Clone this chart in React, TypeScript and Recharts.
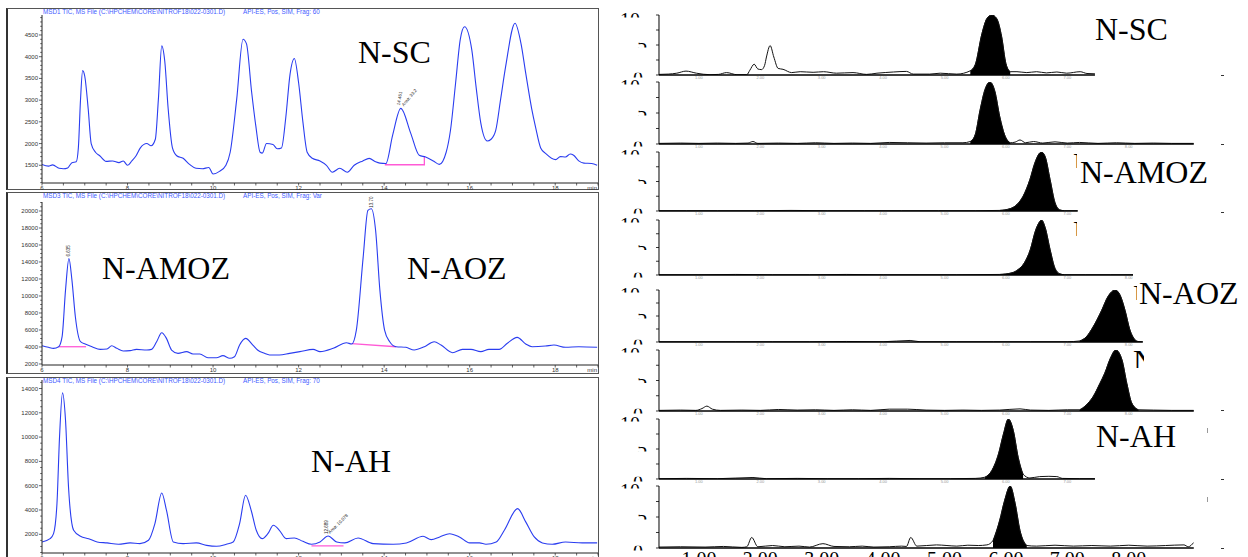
import React from "react";
import { ComposedChart, Line, Area, XAxis, YAxis, ReferenceDot } from "recharts";

type Pt = [number, number];

// ---------- left: TIC traces, [time (min), abundance] ----------
const tic1: Pt[] = [
  [6.0, 1520], [6.15, 1480], [6.25, 1510], [6.4, 1430], [6.5, 1420], [6.6, 1440], [6.7, 1560], [6.8, 1580],
  [6.85, 1900], [6.9, 3000], [6.95, 3680], [7.0, 3550], [7.08, 2800], [7.15, 2000], [7.25, 1800], [7.35, 1720],
  [7.5, 1590], [7.65, 1600], [7.8, 1560], [7.9, 1600], [8.0, 1500], [8.1, 1600], [8.2, 1720], [8.3, 1900],
  [8.45, 2000], [8.55, 1950], [8.65, 2100], [8.72, 3000], [8.8, 4250], [8.87, 3900], [8.95, 2800], [9.05, 1900],
  [9.15, 1720], [9.3, 1660], [9.45, 1520], [9.6, 1430], [9.75, 1420], [9.9, 1450], [10.0, 1300], [10.15, 1360],
  [10.3, 1500], [10.4, 1800], [10.55, 3000], [10.7, 4400], [10.78, 4300], [10.9, 3200], [11.0, 2400], [11.1, 1800],
  [11.15, 1780], [11.25, 2000], [11.4, 1980], [11.5, 1880], [11.6, 1900], [11.7, 2600], [11.8, 3600], [11.9, 3960],
  [12.0, 3400], [12.1, 2500], [12.2, 1800], [12.32, 1660], [12.5, 1600], [12.65, 1500], [12.79, 1340], [12.96, 1430],
  [13.14, 1340], [13.3, 1500], [13.5, 1600], [13.65, 1660], [13.8, 1580], [13.9, 1550], [14.04, 1540], [14.2, 2200],
  [14.39, 2810], [14.62, 2240], [14.82, 1730], [14.97, 1690], [15.15, 1600], [15.29, 1520], [15.45, 1800], [15.55, 2300],
  [15.67, 3390], [15.78, 4400], [15.88, 4690], [16.05, 4150], [16.15, 3300], [16.26, 2470], [16.41, 2060], [16.5, 2100],
  [16.61, 2310], [16.72, 3000], [16.84, 3770], [17.06, 4770], [17.2, 4300], [17.31, 3620], [17.45, 2800], [17.54, 2380],
  [17.66, 1900], [17.78, 1770], [18.01, 1630], [18.12, 1700], [18.24, 1690], [18.35, 1760], [18.43, 1730], [18.55, 1600],
  [18.67, 1550], [18.85, 1540], [18.98, 1500],
];
const tic1Base: Pt[] = [[14.03, 1545], [14.03, 1512], [14.94, 1512], [14.94, 1690]];

const tic2: Pt[] = [
  [6.0, 4150], [6.15, 3960], [6.27, 3840], [6.39, 4030], [6.47, 5210], [6.55, 10690], [6.63, 14400], [6.7, 11860],
  [6.78, 7560], [6.9, 4620], [7.01, 4350], [7.17, 4030], [7.36, 3720], [7.52, 3760], [7.63, 4150], [7.75, 3840],
  [7.9, 3530], [8.06, 3570], [8.21, 3720], [8.45, 3640], [8.56, 3720], [8.68, 4620], [8.8, 5680], [8.91, 5010],
  [9.03, 3640], [9.18, 3250], [9.38, 3450], [9.53, 3170], [9.69, 3170], [9.88, 2740], [10.08, 2740], [10.23, 2980],
  [10.39, 2670], [10.5, 2860], [10.62, 4230], [10.76, 5010], [10.93, 4230], [11.04, 3640], [11.2, 3250], [11.32, 3060],
  [11.55, 3060], [11.79, 3250], [12.03, 3450], [12.34, 3720], [12.5, 3450], [12.81, 3840], [13.12, 4500], [13.24, 4350],
  [13.35, 5990], [13.51, 14600], [13.62, 20080], [13.7, 20270], [13.8, 17730], [13.9, 10690], [14.01, 5990], [14.13, 4620],
  [14.28, 4030], [14.51, 3960], [14.7, 3640], [14.94, 4030], [15.17, 4620], [15.33, 4230], [15.6, 3330], [15.83, 3720],
  [16.03, 3720], [16.26, 3450], [16.45, 3720], [16.69, 3720], [16.88, 4430], [17.11, 5130], [17.31, 4350], [17.46, 4030],
  [17.77, 4110], [17.97, 4230], [18.24, 3960], [18.55, 4030], [18.98, 3960],
];
const tic2BaseA: Pt[] = [[6.39, 4030], [7.03, 4030]];
const tic2BaseB: Pt[] = [[13.24, 4400], [14.28, 4030]];

const tic3: Pt[] = [
  [6.0, 1370], [6.19, 1640], [6.27, 2050], [6.35, 4530], [6.41, 10020], [6.48, 13640], [6.55, 11390], [6.62, 5900],
  [6.74, 2330], [6.9, 1840], [7.09, 1640], [7.29, 1370], [7.52, 1290], [7.79, 1180], [8.06, 1290], [8.29, 1230],
  [8.49, 1510], [8.64, 2880], [8.8, 5400], [8.91, 3980], [9.07, 1370], [9.3, 1230], [9.61, 1290], [9.85, 1090],
  [10.08, 1010], [10.31, 1180], [10.47, 1370], [10.62, 2880], [10.76, 5210], [10.89, 3980], [11.01, 2330], [11.15, 1640],
  [11.28, 2050], [11.41, 2740], [11.55, 2330], [11.71, 1640], [11.9, 1700], [12.1, 1420], [12.3, 1180], [12.5, 1370],
  [12.69, 1860], [12.89, 1370], [13.08, 1290], [13.39, 1700], [13.74, 1230], [14.21, 1180], [14.52, 1290], [14.91, 1840],
  [15.1, 1560], [15.3, 1780], [15.53, 2050], [15.76, 1780], [16.0, 1290], [16.23, 1290], [16.38, 1180], [16.62, 1370],
  [16.81, 2330], [17.12, 4110], [17.31, 3020], [17.51, 1780], [17.7, 1290], [17.93, 1180], [18.24, 1370], [18.63, 1290],
  [18.98, 1290],
];
const tic3Base: Pt[] = [[12.3, 1040], [13.05, 1040]];

// ---------- right: SIM traces, [time (min), response] ----------
const sim1: Pt[] = [
  [0.35, 0.1], [0.5, 0.15], [0.64, 0.3], [0.79, 0.65], [0.96, 0.3], [1.18, 0.05], [1.32, 0.1], [1.45, 0.4], [1.62, 0.05],
  [1.78, 0.05], [1.83, 0.8], [1.9, 1.8], [1.96, 1.0], [2.02, 0.9], [2.07, 1.6], [2.1, 3.0], [2.16, 4.9], [2.22, 3.0],
  [2.29, 1.1], [2.37, 0.95], [2.51, 0.4], [2.65, 0.55], [2.86, 0.45], [3.03, 0.55], [3.24, 0.3], [3.51, 0.4], [3.73, 0.1],
  [3.9, 0.3], [4.17, 0.5], [4.38, 0.6], [4.49, 0.15], [4.76, 0.15], [4.93, 0.3], [5.2, 0.15], [5.42, 0.7], [5.5, 1.7],
  [5.61, 6.9], [5.69, 9.4], [5.77, 10], [5.85, 9.4], [5.93, 6.4], [6.0, 1.9], [6.07, 0.55], [6.18, 0.55], [6.34, 0.4],
  [6.5, 0.55], [6.66, 0.35], [6.83, 0.5], [6.99, 0.3], [7.21, 0.55], [7.32, 0.25], [7.45, 0.2],
];
const sim2: Pt[] = [
  [0.35, 0.1], [0.7, 0.15], [1.0, 0.1], [1.3, 0.15], [1.6, 0.1], [1.8, 0.15], [1.88, 0.4], [1.96, 0.1], [2.3, 0.15],
  [2.6, 0.1], [2.9, 0.2], [3.2, 0.1], [3.5, 0.15], [3.8, 0.1], [4.1, 0.25], [4.4, 0.2], [4.7, 0.15], [5.0, 0.2],
  [5.3, 0.2], [5.42, 0.4], [5.5, 1.5], [5.58, 5.5], [5.66, 8.8], [5.74, 10], [5.82, 8.5], [5.9, 4.4], [5.99, 1.2],
  [6.07, 0.2], [6.15, 0.3], [6.23, 0.65], [6.32, 0.2], [6.45, 0.4], [6.6, 0.15], [6.8, 0.35], [7.0, 0.15], [7.2, 0.25],
  [7.5, 0.1], [7.8, 0.2], [8.1, 0.1], [8.4, 0.15], [8.7, 0.1], [9.06, 0.1],
];
const sim3: Pt[] = [
  [0.35, 0.05], [0.8, 0.05], [1.3, 0.05], [1.9, 0.05], [2.5, 0.1], [3.1, 0.05], [3.7, 0.05], [4.3, 0.05], [4.9, 0.05],
  [5.5, 0.05], [5.9, 0.1], [6.07, 0.4], [6.18, 1.1], [6.28, 2.5], [6.39, 5.3], [6.47, 8.1], [6.54, 9.7], [6.58, 10],
  [6.64, 9.2], [6.72, 5.3], [6.8, 1.4], [6.88, 0.17], [6.95, 0.05], [7.17, 0.05],
];
const sim4: Pt[] = [
  [0.35, 0.05], [1.0, 0.05], [1.6, 0.1], [2.2, 0.05], [2.8, 0.05], [3.4, 0.1], [4.0, 0.05], [4.6, 0.05], [5.2, 0.05],
  [5.9, 0.1], [6.1, 0.4], [6.2, 1.0], [6.3, 2.2], [6.4, 4.7], [6.48, 8.0], [6.55, 9.7], [6.58, 10], [6.64, 8.6],
  [6.72, 4.6], [6.8, 1.2], [6.88, 0.2], [6.95, 0.05], [7.3, 0.05], [7.7, 0.05], [8.07, 0.05],
];
const sim5: Pt[] = [
  [0.35, 0.05], [1.0, 0.05], [1.6, 0.05], [2.2, 0.05], [2.8, 0.05], [3.4, 0.1], [4.0, 0.05], [4.44, 0.3], [4.6, 0.05],
  [5.2, 0.05], [5.8, 0.05], [6.4, 0.05], [7.0, 0.05], [7.2, 0.2], [7.31, 1.0], [7.42, 2.9], [7.56, 6.1], [7.66, 8.7],
  [7.78, 10], [7.86, 9.0], [7.94, 6.1], [8.02, 2.3], [8.1, 0.45], [8.15, 0.1], [8.23, 0.05],
];
const sim6: Pt[] = [
  [0.35, 0.1], [0.7, 0.15], [0.95, 0.1], [1.05, 0.4], [1.13, 0.8], [1.22, 0.3], [1.35, 0.1], [1.7, 0.15], [2.0, 0.1],
  [2.3, 0.25], [2.6, 0.15], [2.9, 0.2], [3.2, 0.1], [3.5, 0.2], [3.8, 0.1], [4.1, 0.3], [4.4, 0.3], [4.7, 0.15],
  [5.0, 0.1], [5.3, 0.15], [5.6, 0.1], [5.9, 0.15], [6.23, 0.35], [6.4, 0.15], [6.7, 0.1], [7.0, 0.2], [7.2, 0.2],
  [7.31, 1.0], [7.42, 2.35], [7.53, 4.5], [7.61, 6.2], [7.7, 8.6], [7.79, 10], [7.89, 8.4], [7.97, 4.5], [8.05, 1.3],
  [8.16, 0.2], [8.4, 0.15], [8.7, 0.1], [9.06, 0.1],
];
const sim7: Pt[] = [
  [0.35, 0.05], [0.8, 0.1], [1.3, 0.05], [1.88, 0.25], [2.1, 0.05], [2.6, 0.1], [3.1, 0.05], [3.6, 0.05], [4.1, 0.1],
  [4.6, 0.05], [5.1, 0.05], [5.5, 0.1], [5.66, 0.3], [5.77, 1.4], [5.88, 4.2], [5.96, 7.5], [6.04, 10], [6.12, 8.1],
  [6.2, 3.6], [6.28, 0.8], [6.39, 0.17], [6.55, 0.4], [6.7, 0.45], [6.83, 0.4], [6.92, 0.1], [7.2, 0.05], [7.45, 0.05],
];
const sim8: Pt[] = [
  [0.35, 0.15], [0.7, 0.2], [1.1, 0.15], [1.4, 0.25], [1.7, 0.1], [1.78, 0.2], [1.86, 1.7], [1.96, 0.2], [2.2, 0.4],
  [2.4, 0.2], [2.63, 0.3], [2.8, 0.15], [3.02, 0.7], [3.2, 0.25], [3.45, 0.2], [3.66, 0.3], [3.85, 0.15], [4.1, 0.2],
  [4.3, 0.3], [4.38, 0.25], [4.45, 1.7], [4.55, 0.3], [4.87, 0.5], [5.04, 0.4], [5.2, 0.3], [5.38, 0.45], [5.55, 0.4],
  [5.69, 0.5], [5.79, 1.2], [5.9, 4.5], [5.98, 7.7], [6.07, 10], [6.15, 7.2], [6.23, 2.8], [6.34, 0.4], [6.5, 0.3],
  [6.8, 0.45], [7.1, 0.3], [7.4, 0.4], [7.7, 0.3], [8.0, 0.45], [8.3, 0.3], [8.6, 0.4], [8.9, 0.5], [8.97, 0.2], [9.06, 0.9],
];

// integrated (filled) window of each SIM trace and where each trace's axis ends
const simPeaks: Pt[] = [[5.42, 6.07], [5.42, 6.07], [5.9, 6.95], [5.9, 6.95], [7.1, 8.15], [7.1, 8.2], [5.6, 6.36], [5.7, 6.36]];
const simEnds = [7.45, 9.06, 7.17, 8.07, 8.23, 9.06, 7.45, 9.06];

const LX_TICKS = [6, 6.5, 7, 7.5, 8, 8.5, 9, 9.5, 10, 10.5, 11, 11.5, 12, 12.5, 13, 13.5, 14, 14.5, 15, 15.5, 16, 16.5, 17, 17.5, 18, 18.5, 19];
const RX_TICKS = [1, 2, 3, 4, 5, 6, 7, 8];
const RY_TICKS = [0, 2.5, 5, 7.5, 10];

const BLUE = "#2a3df0";
const PINK = "#ff5ad6";
const R_T0 = 0.35;
const R_PX = 61.4;

const range = (a: number, b: number, s: number) => {
  const out: number[] = [];
  for (let v = a; v <= b + 1e-9; v += s) out.push(Math.round(v * 100) / 100);
  return out;
};
const toObj = (pts: Pt[]) => pts.map(([t, v]) => ({ t, v }));

const LeftXTick = (p: any) => {
  const { x, y, payload } = p;
  const v = payload.value;
  const lbl = v === 19 ? "min" : Number.isInteger(v) && v % 2 === 0 ? String(v) : null;
  return (
    <g>
      <line x1={x} x2={x} y1={y} y2={y + 2.5} stroke="#222" strokeWidth={0.7} />
      {lbl && (
        <text x={v === 19 ? x - 1 : x} y={y + 6.5} textAnchor={v === 19 ? "end" : "middle"} fontSize={6} fontFamily="Liberation Sans" fill="#333">
          {lbl}
        </text>
      )}
    </g>
  );
};

const leftYTick = (step: number) => (p: any) => {
  const { x, y, payload } = p;
  const v = payload.value;
  const major = v % step === 0;
  return (
    <g>
      <line x1={x} x2={x - (major ? 3 : 1.8)} y1={y} y2={y} stroke="#222" strokeWidth={0.7} />
      {major && (
        <text x={x - 4} y={y + 2} textAnchor="end" fontSize={6} fontFamily="Liberation Sans" fill="#333">
          {v}
        </text>
      )}
    </g>
  );
};

// the right-hand y labels are only partly visible in the source figure
const rightYTick = (id: string) => (p: any) => {
  const { x, y, payload } = p;
  const v = payload.value;
  const tl = <line x1={x} x2={x - 3} y1={y} y2={y} stroke="#000" strokeWidth={0.8} />;
  if (v !== 0 && v !== 5 && v !== 10) return <g>{tl}</g>;
  const cid = `${id}-${v}`;
  const tx = v === 10 ? x - 19 : v === 5 ? x - 12 : x - 16;
  const base = v === 5 ? y + 6.5 : y + 11.5;
  return (
    <g>
      {tl}
      <clipPath id={cid}>
        <rect x={x - 60} y={y - 2.2} width={56} height={4.6} />
      </clipPath>
      <text x={tx} y={base} textAnchor="end" fontSize={20} fontFamily="Liberation Serif" fill="#000" clipPath={`url(#${cid})`}>
        {String(v)}
      </text>
    </g>
  );
};

const rightXTick = (big: boolean) => (p: any) => {
  const { x, y, payload } = p;
  const s = Number(payload.value).toFixed(2);
  return big ? (
    <text x={x} y={y + 18.5} textAnchor="middle" fontSize={20} fontFamily="Liberation Serif" fill="#000">{s}</text>
  ) : (
    <text x={x} y={y + 3.6} textAnchor="middle" fontSize={4} fontFamily="Liberation Sans" fill="#999">{s}</text>
  );
};

type Note = { t: number; v: number; texts: { s: string; dx: number; dy: number; a: number }[] };

function LeftPanel({ top, marginTop, plotBottom, trace, bases, yDomain, yTicks, yStep, notes }: {
  top: number; marginTop: number; plotBottom: number; trace: Pt[]; bases: Pt[][];
  yDomain: [number, number]; yTicks: number[]; yStep: number; notes: Note[];
}) {
  const height = plotBottom - top + 8;
  return (
    <div style={{ position: "absolute", left: 0, top, width: 600, height }}>
      <ComposedChart width={600} height={height} margin={{ top: marginTop, right: 2, bottom: 0, left: 0 }}>
        <XAxis dataKey="t" type="number" domain={[6, 19]} ticks={LX_TICKS} interval={0} tickSize={0} tickMargin={0}
          height={8} axisLine={{ stroke: "#222" }} tickLine={false} tick={LeftXTick} allowDataOverflow />
        <YAxis dataKey="v" type="number" domain={yDomain} ticks={yTicks} interval={0} width={42} tickSize={0} tickMargin={0}
          axisLine={{ stroke: "#222" }} tickLine={false} tick={leftYTick(yStep)} allowDataOverflow />
        {bases.map((b, i) => (
          <Line key={i} data={toObj(b)} dataKey="v" type="linear" stroke={PINK} strokeWidth={1.3}
            dot={false} activeDot={false} isAnimationActive={false} />
        ))}
        <Line data={toObj(trace)} dataKey="v" type="monotone" stroke={BLUE} strokeWidth={1.1}
          dot={false} activeDot={false} isAnimationActive={false} />
        {notes.map((n, i) => (
          <ReferenceDot key={i} x={n.t} y={n.v} r={0} fill="none" stroke="none" ifOverflow="visible"
            label={(lp: any) => {
              const vb = lp.viewBox || {};
              const cx = (vb.x ?? 0) + (vb.width ?? 0) / 2;
              const cy = (vb.y ?? 0) + (vb.height ?? 0) / 2;
              return (
                <g>
                  {n.texts.map((tx, j) => (
                    <text key={j} x={cx + tx.dx} y={cy + tx.dy} fontSize={4.5} fontFamily="Liberation Sans" fill="#222"
                      transform={`rotate(${tx.a} ${cx + tx.dx} ${cy + tx.dy})`}>{tx.s}</text>
                  ))}
                </g>
              );
            }} />
        ))}
      </ComposedChart>
    </div>
  );
}

function RightPanel({ idx, plotTop, plotBottom, trace, big }: {
  idx: number; plotTop: number; plotBottom: number; trace: Pt[]; big?: boolean;
}) {
  const tEnd = simEnds[idx];
  const [p0, p1] = simPeaks[idx];
  const xh = big ? 30 : 6;
  const top = plotTop - 4;
  const width = 59 + (tEnd - R_T0) * R_PX;
  const height = plotBottom - top + xh;
  const data = trace.map(([t, v]) => ({ t, v, f: t >= p0 && t <= p1 ? v : null }));
  return (
    <div style={{ position: "absolute", left: 600, top, width, height }}>
      <ComposedChart width={width} height={height} data={data} margin={{ top: 4, right: 0, bottom: 0, left: 0 }}>
        <XAxis dataKey="t" type="number" domain={[R_T0, tEnd]} ticks={RX_TICKS.filter((v) => v <= tEnd)} interval={0}
          tickSize={0} tickMargin={0} height={xh} axisLine={{ stroke: "#000", strokeWidth: 1.3 }} tickLine={false}
          tick={rightXTick(!!big)} allowDataOverflow />
        <YAxis type="number" domain={[0, 10]} ticks={RY_TICKS} interval={0} width={59} tickSize={0} tickMargin={0}
          axisLine={{ stroke: "#000" }} tickLine={false} tick={rightYTick(`ry${idx}`)} allowDataOverflow />
        <Area dataKey="f" type="monotone" stroke="#000" strokeWidth={0.8} fill="#000" fillOpacity={1}
          dot={false} activeDot={false} isAnimationActive={false} />
        <Line dataKey="v" type="monotone" stroke="#111" strokeWidth={1} dot={false} activeDot={false} isAnimationActive={false} />
      </ComposedChart>
    </div>
  );
}

const HEADERS = [
  { y: 13.7, a: "MSD1 TIC, MS File (C:\\HPCHEM\\CORE\\NITROF18\\022-0301.D)", b: "API-ES, Pos, SIM, Frag: 60" },
  { y: 197.5, a: "MSD3 TIC, MS File (C:\\HPCHEM\\CORE\\NITROF18\\022-0301.D)", b: "API-ES, Pos, SIM, Frag: Var" },
  { y: 383, a: "MSD4 TIC, MS File (C:\\HPCHEM\\CORE\\NITROF18\\022-0301.D)", b: "API-ES, Pos, SIM, Frag: 70" },
];
const LABELS = [
  { s: "N-SC", x: 358, y: 63 }, { s: "N-AMOZ", x: 102, y: 279 }, { s: "N-AOZ", x: 407, y: 279 }, { s: "N-AH", x: 311, y: 472 },
  { s: "N-SC", x: 1095, y: 40 }, { s: "N-AMOZ", x: 1080, y: 183 }, { s: "N-AOZ", x: 1139, y: 304 }, { s: "N-AH", x: 1096, y: 447 },
];
const FRAGS = [
  { x: 1073, y0: 153, y1: 168, w: 4, base: 175 }, { x: 1073, y0: 221, y1: 236, w: 4, base: 243 },
  { x: 1133, y0: 286, y1: 300, w: 4, base: 307 }, { x: 1133, y0: 351, y1: 368, w: 11, base: 372 },
];
const DASHES = [75, 144, 212, 410, 479, 548];
const TICKS_R = [428, 497];

const frame = (top: number, height: number): React.CSSProperties => ({
  position: "absolute", left: 6, top, width: 593, height, boxSizing: "border-box",
  border: "1px solid #555", borderLeft: "2px solid #333",
});

export default function App() {
  return (
    <div style={{ position: "absolute", left: 0, top: 0, width: 1248, height: 557, overflow: "hidden", background: "#fff" }}>
      <div style={frame(8, 182)} />
      <div style={frame(192, 182)} />
      <div style={frame(377, 190)} />

      <LeftPanel top={0} marginTop={15} plotBottom={183} trace={tic1} bases={[tic1Base]} yDomain={[1092, 4960]}
        yTicks={range(1100, 4900, 100)} yStep={500}
        notes={[{ t: 14.39, v: 2810, texts: [{ s: "14.461", dx: -1, dy: -3, a: -80 }, { s: "Area: 33.2", dx: 3, dy: -2, a: -50 }] }]} />
      <LeftPanel top={190} marginTop={12} plotBottom={365} trace={tic2} bases={[tic2BaseA, tic2BaseB]} yDomain={[1880, 21060]}
        yTicks={range(2000, 21000, 500)} yStep={2000}
        notes={[
          { t: 6.63, v: 14400, texts: [{ s: "6.635", dx: 1.5, dy: -2, a: -90 }] },
          { t: 13.7, v: 20270, texts: [{ s: "13.70", dx: 1.5, dy: -1, a: -90 }] },
        ]} />
      <LeftPanel top={372} marginTop={8} plotBottom={553} trace={tic3} bases={[tic3Base]} yDomain={[460, 14700]}
        yTicks={range(500, 14500, 500)} yStep={2000}
        notes={[{ t: 12.69, v: 1860, texts: [{ s: "12.689", dx: -0.5, dy: -2, a: -90 }, { s: "Area: 10.078", dx: 2, dy: -2, a: -45 }] }]} />

      <RightPanel idx={0} plotTop={15} plotBottom={75} trace={sim1} />
      <RightPanel idx={1} plotTop={82} plotBottom={144} trace={sim2} />
      <RightPanel idx={2} plotTop={152} plotBottom={211} trace={sim3} />
      <RightPanel idx={3} plotTop={220} plotBottom={275} trace={sim4} />
      <RightPanel idx={4} plotTop={290} plotBottom={342} trace={sim5} />
      <RightPanel idx={5} plotTop={350} plotBottom={411} trace={sim6} />
      <RightPanel idx={6} plotTop={419} plotBottom={479} trace={sim7} />
      <RightPanel idx={7} plotTop={486} plotBottom={548} trace={sim8} big />

      <svg width={1248} height={557} style={{ position: "absolute", left: 0, top: 0, pointerEvents: "none" }}>
        {HEADERS.map((h, i) => (
          <g key={i} fontSize={6.3} fontFamily="Liberation Sans" fill="#3f5cff">
            <text x={43} y={h.y}>{h.a}</text>
            <text x={243} y={h.y}>{h.b}</text>
          </g>
        ))}
        {LABELS.map((l, i) => (
          <text key={i} x={l.x} y={l.y} fontSize={32} fontFamily="Liberation Serif" fill="#000">{l.s}</text>
        ))}
        {FRAGS.map((f, i) => (
          <g key={i}>
            <clipPath id={`frag${i}`}>
              <rect x={f.x} y={f.y0} width={f.w} height={f.y1 - f.y0} />
            </clipPath>
            <text x={f.x} y={f.base} fontSize={32} fontFamily="Liberation Serif" fill="#000" clipPath={`url(#frag${i})`}>N</text>
          </g>
        ))}
        {DASHES.map((y, i) => <rect key={i} x={1221} y={y} width={3} height={1} fill="#333" />)}
        {TICKS_R.map((y, i) => <rect key={i} x={1207} y={y} width={1} height={5} fill="#999" />)}
      </svg>
    </div>
  );
}
